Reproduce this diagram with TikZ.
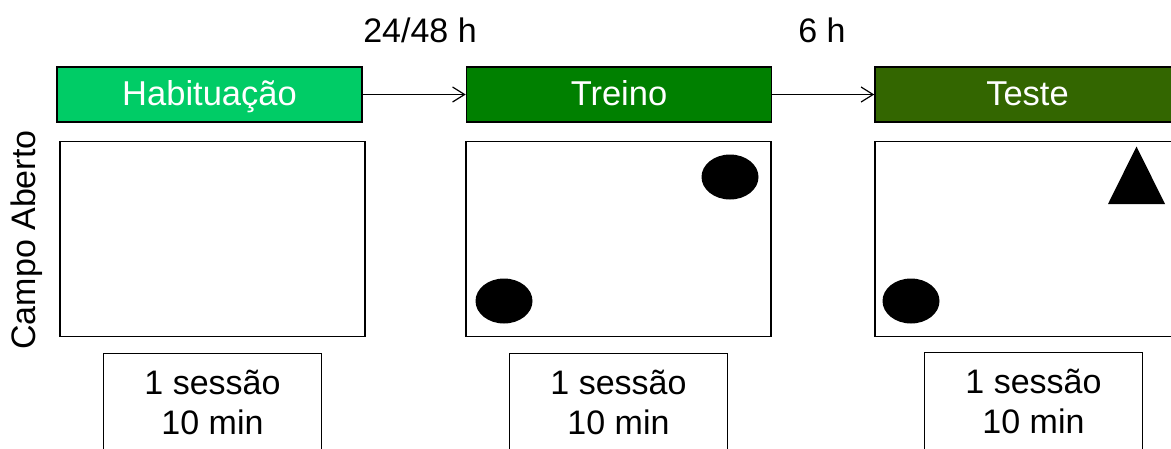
\documentclass[tikz,border=0pt]{standalone}
\usepackage{fontspec}
\setmainfont{Liberation Sans}
\usetikzlibrary{arrows.meta,shapes.geometric}
\definecolor{habgreen}{HTML}{00CC66}
\definecolor{tregreen}{HTML}{008000}
\definecolor{tesgreen}{HTML}{336600}
\begin{document}
\begin{tikzpicture}[x=1pt,y=-1pt,
  txt/.style={font=\fontsize{34}{40}\selectfont},
  phase/.style={draw=black,line width=1.6pt,minimum width=305pt,minimum height=55pt,inner sep=0pt,text=white,font=\fontsize{34.5}{40}\selectfont,text height=25pt,text depth=4pt},
  field/.style={draw=black,line width=1.6pt,fill=white,minimum width=305pt,minimum height=195pt,inner sep=0pt},
  sess/.style={draw=black,line width=1.4pt,minimum width=218pt,minimum height=97pt,inner sep=0pt,align=center,txt},
  obj/.style={fill=black,ellipse,minimum width=57pt,minimum height=45pt,inner sep=0pt},
  flow/.style={line width=1.2pt,-{Straight Barb[length=12pt,width=15pt,line width=1.2pt]}}
]
\useasboundingbox (0,0) rectangle (1171,448);
\clip (0,0) rectangle (1171,448);
% phase headers
\node[phase,fill=habgreen] (hab) at (209.5,94.5) {Habituação};
\node[phase,fill=tregreen] (tre) at (619,94.5) {Treino};
\node[phase,fill=tesgreen] (tes) at (1027.5,94.5) {Teste};
% time labels
\node[txt] (t1) at (420,30) {24/48 h};
\node[txt] (t2) at (822,30) {6 h};
% arrows
\draw[flow] (hab.east) -- (tre.west);
\draw[flow] (tre.east) -- (tes.west);
% open fields
\node[field] (f1) at (212.5,239) {};
\node[field] (f2) at (618.5,239) {};
\node[field] (f3) at (1027.5,239) {};
% objects
\node[obj] (o1) at (730,177) {};
\node[obj] (o2) at (504,301) {};
\node[obj] (o3) at (911,301) {};
\fill[black] (1136.5,146.5) -- (1165,204) -- (1108,204) -- cycle;
% side label
\node[txt,rotate=90] (camp) at (27,240) {Campo Aberto};
% session boxes
\node[sess,anchor=north] (s1) at (212.5,353) {1 sessão\\ 10 min};
\node[sess,anchor=north] (s2) at (618.5,353) {1 sessão\\ 10 min};
\node[sess,anchor=north] (s3) at (1033.5,352) {1 sessão\\ 10 min};
\end{tikzpicture}
\end{document}
